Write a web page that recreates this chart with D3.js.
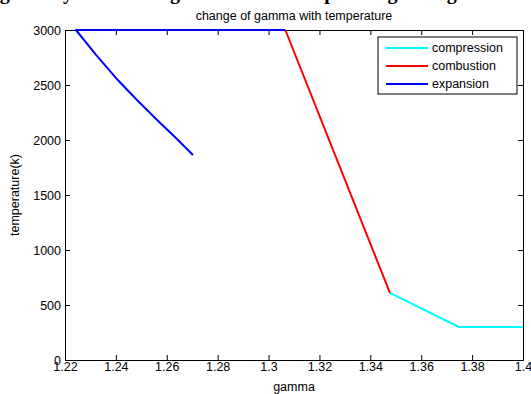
<html>
  <head>
    <title>change of gamma with temperature</title>
    <script src="https://d3js.org/d3.v7.min.js"></script>
    <style>
      body { margin: 0; background: #fff; }
      text { font-family: "Liberation Sans", Arial, sans-serif; }
    </style>
  </head>
  <body>
    <svg id="chart" width="531" height="394"></svg>
    <script>

    // data (gamma, temperature in K)
    const compression = [[1.3477, 610], [1.3748, 300], [1.40, 300]];
    const combustion = [[1.3066, 3000], [1.3477, 610]];
    const expansion = [[1.3066, 3000], [1.2243, 3000], [1.2322, 2773], [1.2400, 2564],
                       [1.2479, 2373], [1.2558, 2191], [1.2636, 2018], [1.2703, 1864]];

    const seriesNames = ["compression", "combustion", "expansion"];
    const seriesColors = ["#00ffff", "#ff0000", "#0000ff"];
    const xTicks = [1.22, 1.24, 1.26, 1.28, 1.3, 1.32, 1.34, 1.36, 1.38, 1.4];
    const yTicks = [0, 500, 1000, 1500, 2000, 2500, 3000];

    // bottom of a caption cut off at the top of the image
    const captionWords = ["Fig", "by", "ag", "temp", "using", "diag"];
    const captionX = [-18, 52, 160, 292, 352, 420];

    const svg = d3.select("svg#chart");
    const margins = {"top":30, "right":8, "bottom":34, "left":65};
    const width = +svg.attr("width");
    const height = +svg.attr("height");
    const chartWidth = width - margins.left - margins.right;
    const chartHeight = height - margins.top - margins.bottom;

    // cropped caption
    svg.append("text")
      .attr("y", -1)
      .style("font-family", "'Liberation Serif', 'Times New Roman', serif")
      .style("font-weight", "bold")
      .style("font-size", "20px")
      .selectAll("tspan").data(captionWords)
      .join("tspan")
      .attr("x", (d, i) => captionX[i])
      .text(d => d);

    const xScale = d3.scaleLinear().domain([1.22, 1.4]).range([0, chartWidth]);
    const yScale = d3.scaleLinear().domain([0, 3000]).range([chartHeight, 0]);

    let plot = svg.append("g")
      .attr("transform", "translate(" + margins.left + "," + margins.top + ")");

    // axes, ticks pointing inward like matlab
    let bottomAxis = d3.axisBottom(xScale).tickValues(xTicks).tickSize(-5).tickSizeOuter(0)
                       .tickPadding(4).tickFormat(d3.format("~g"));
    let leftAxis = d3.axisLeft(yScale).tickValues(yTicks).tickSize(-5).tickSizeOuter(0)
                     .tickPadding(4).tickFormat(d3.format("d"));
    let topAxis = d3.axisTop(xScale).tickValues(xTicks).tickSize(-5).tickSizeOuter(0).tickFormat("");
    let rightAxis = d3.axisRight(yScale).tickValues(yTicks).tickSize(-5).tickSizeOuter(0).tickFormat("");

    plot.append("g").attr("class", "x axis")
      .attr("transform", "translate(0," + chartHeight + ")").call(bottomAxis);
    plot.append("g").attr("class", "y axis").call(leftAxis);
    plot.append("g").attr("class", "x2 axis").call(topAxis);
    plot.append("g").attr("class", "y2 axis")
      .attr("transform", "translate(" + chartWidth + ",0)").call(rightAxis);

    plot.selectAll(".axis path, .x2 path, .y2 path").attr("stroke", "#000");
    plot.selectAll(".axis line, .x2 line, .y2 line").attr("stroke", "#000");
    plot.selectAll(".axis text")
      .style("font-size", "12.5px").attr("fill", "#000");
    plot.selectAll(".x.axis text").attr("dy", "0.55em");

    // lines
    const lineGen = d3.line()
      .x(d => xScale(d[0]))
      .y(d => yScale(d[1]));

    const allSeries = [compression, combustion, expansion];
    plot.selectAll("path.series").data(allSeries)
      .join("path").attr("class", "series")
      .attr("fill", "none")
      .attr("stroke", (d, i) => seriesColors[i])
      .attr("stroke-width", 2)
      .attr("stroke-linejoin", "round")
      .attr("d", lineGen);

    // title and labels
    svg.append("text")
      .attr("x", margins.left + chartWidth / 2)
      .attr("y", 20)
      .attr("text-anchor", "middle")
      .style("font-size", "12.5px")
      .text("change of gamma with temperature");

    svg.append("text")
      .attr("x", margins.left + chartWidth / 2)
      .attr("y", 391)
      .attr("text-anchor", "middle")
      .style("font-size", "12.5px")
      .text("gamma");

    svg.append("text")
      .attr("transform", "translate(19," + (margins.top + chartHeight / 2) + ") rotate(-90)")
      .attr("text-anchor", "middle")
      .style("font-size", "12.5px")
      .text("temperature(k)");

    // legend
    let legend = svg.append("g").attr("transform", "translate(378,37)");
    legend.append("rect")
      .attr("width", 139).attr("height", 57)
      .attr("fill", "#fff").attr("stroke", "#000");
    let rows = legend.selectAll("g.row").data(seriesNames)
      .join("g").attr("class", "row")
      .attr("transform", (d, i) => "translate(0," + (11 + i * 18) + ")");
    rows.append("line")
      .attr("x1", 8).attr("x2", 50)
      .attr("stroke", (d, i) => seriesColors[i])
      .attr("stroke-width", 2);
    rows.append("text")
      .attr("x", 54).attr("dy", "0.35em")
      .style("font-size", "12.5px")
      .text(d => d);

    </script>
  </body>
</html>
